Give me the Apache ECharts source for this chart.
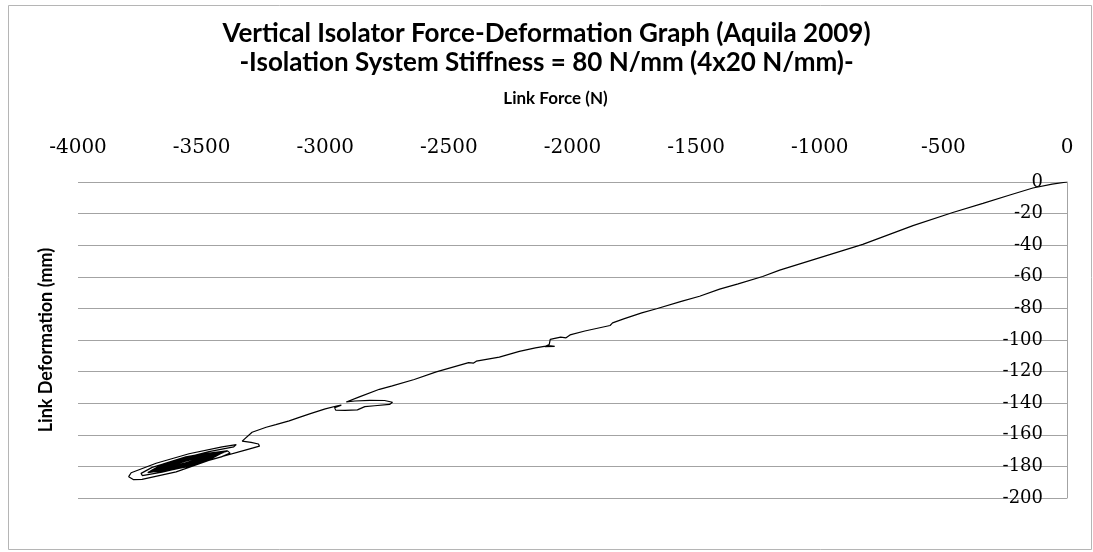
<!DOCTYPE html>
<html>
<head>
<meta charset="utf-8">
<script src="https://cdn.jsdelivr.net/npm/echarts@6/dist/echarts.min.js"></script>
<style>html,body{margin:0;padding:0;background:#fff}#c{width:1093px;height:552px}</style>
</head>
<body>
<div id="c"></div>
<script>
// ---- Data ----
const titleLines = ['Vertical Isolator Force-Deformation Graph (Aquila 2009)', '-Isolation System Stiffness = 80 N/mm (4x20 N/mm)-'];
const xAxisName = 'Link Force (N)';
const yAxisName = 'Link Deformation (mm)';
const xTicks = { min: -4000, max: 0, interval: 500 };
const yTicks = { min: -200, max: 0, interval: 20 };

// Link force (N) along the recorded path (rows match deformMm rows)
const forceN = [
  0, -60, -138, -231, -340, -462, -623, -826, -1012, -1162, -1231, -1330, -1405, -1486, -1560, -1660,
  -1720, -1790, -1838, -1848, -1856, -1950, -2010, -2026, -2048, -2090, -2094, -2112, -2072, -2096,
  -2150, -2215, -2296, -2389, -2400, -2420, -2551, -2640, -2729, -2781, -2862, -2915,
  -2880, -2820, -2760, -2728, -2740, -2800, -2840, -2870, -2920, -2958, -2962, -2935, -2950,
  -3000, -3060, -3105, -3146, -3200, -3239, -3296, -3336,
  -3300, -3270, -3266, -3320, -3457, -3603, -3741, -3775, -3795, -3785, -3684, -3551, -3417, -3360,
  -3370, -3470, -3600, -3700, -3745, -3740, -3660, -3540, -3420, -3385, -3395,
  -3405, -3480, -3560, -3650, -3712, -3650, -3560, -3480,
  -3400, -3485, -3565, -3655, -3718, -3645, -3555, -3475,
  -3412, -3478, -3558, -3648, -3705, -3652, -3562, -3482,
  -3398, -3470, -3550, -3640, -3715, -3640, -3550, -3470,
  -3420, -3490, -3570, -3660, -3700, -3655, -3565, -3485,
  -3408, -3482, -3562, -3652, -3710, -3648, -3558, -3478,
  -3415, -3488, -3568, -3658, -3708, -3660, -3570, -3490,
  -3402, -3476, -3556, -3646, -3714, -3644, -3554, -3474,
  -3425, -3492, -3572, -3662, -3702, -3656, -3566, -3486,
  -3410, -3484, -3564, -3654, -3706, -3650, -3560, -3480,
  -3418, -3486, -3566, -3656, -3711, -3646, -3556, -3476,
  -3415, -3480, -3560, -3650, -3704, -3650, -3560, -3480,
  -3406, -3484, -3564, -3654, -3712, -3654, -3564, -3484,
  -3422, -3478, -3558, -3648, -3700, -3648, -3558, -3478,
  -3410, -3486, -3566, -3656, -3716, -3656, -3566, -3486,
  -3404, -3480, -3560, -3650, -3709, -3650, -3560, -3480, -3440
];
// Link deformation (mm) along the same path
const deformMm = [
  0, -1.3, -3.8, -8.2, -13.5, -19.3, -27.6, -39.5, -48.5, -55.8, -59.8, -64.5, -67.8, -72.3, -75.6, -80.2,
  -82.8, -86.5, -89.2, -90.8, -90.0, -94.3, -96.8, -98.6, -98.2, -99.6, -102.8, -104.2, -104.0, -103.6,
  -105.0, -107.2, -110.8, -113.4, -114.6, -114.3, -120.2, -125.0, -129.0, -131.2, -136.0, -139.2,
  -138.6, -138.2, -138.3, -139.4, -140.8, -141.6, -142.2, -144.2, -144.6, -144.4, -142.8, -141.2, -141.6,
  -143.6, -146.6, -149.0, -151.2, -153.6, -155.2, -158.4, -164.0,
  -164.8, -165.8, -167.2, -169.5, -175.5, -183.5, -188.2, -188.4, -186.5, -184.0, -178.0, -172.0, -167.6, -166.2,
  -167.6, -170.6, -175.8, -180.6, -184.4, -185.8, -183.6, -179.2, -174.0, -171.6, -170.2,
  -170.8, -172.0, -174.6, -179.0, -183.4, -183.0, -180.0, -175.8,
  -170.4, -172.4, -175.0, -179.4, -183.9, -182.6, -179.6, -175.4,
  -171.2, -172.2, -174.9, -179.2, -183.0, -182.4, -179.2, -175.2,
  -170.2, -171.6, -174.2, -178.6, -183.6, -182.8, -179.8, -176.0,
  -171.6, -172.8, -175.4, -179.8, -182.6, -182.2, -179.0, -174.8,
  -170.9, -172.6, -175.2, -179.6, -183.2, -182.0, -178.6, -175.0,
  -171.3, -172.0, -174.4, -178.8, -183.5, -183.2, -180.2, -176.2,
  -170.6, -172.8, -175.6, -179.9, -183.7, -181.8, -178.4, -174.6,
  -171.8, -172.4, -175.0, -179.4, -182.9, -182.6, -179.4, -175.4,
  -171.0, -171.8, -174.0, -178.4, -182.8, -182.9, -180.4, -176.4,
  -171.5, -173.0, -175.8, -180.0, -183.3, -181.6, -178.2, -174.4,
  -171.0, -173.0, -175.9, -180.2, -183.0, -181.6, -178.5, -174.8,
  -170.8, -173.2, -176.2, -180.4, -183.5, -181.8, -178.2, -174.6,
  -171.6, -173.4, -176.4, -180.6, -182.8, -181.4, -178.0, -174.2,
  -171.1, -173.6, -176.6, -180.8, -183.8, -181.2, -177.8, -174.0,
  -170.7, -172.3, -174.8, -179.3, -183.1, -182.5, -179.5, -175.6, -173.0
];

const seriesData = forceN.map((f, i) => [f, deformMm[i]]);

const gridColor = '#a3a3a3';
const tickFont = 'DejaVu Serif';
const textFont = 'Lato';

const chart = echarts.init(document.getElementById('c'), null, { renderer: 'canvas' });
chart.setOption({
  animation: false,
  backgroundColor: '#fff',
  title: {
    text: titleLines.join('\n'),
    left: 'center',
    top: 14,
    padding: [5, 0, 5, 10],
    textStyle: { fontFamily: textFont, fontSize: 26, fontWeight: 'bold', color: '#000', lineHeight: 29 }
  },
  graphic: [
    { type: 'rect', shape: { x: 8.5, y: 5.5, width: 1083, height: 544 }, style: { fill: 'none', stroke: '#b5b5b5', lineWidth: 1 }, silent: true }
  ],
  grid: { left: 78, right: 26, top: 182, bottom: 54, containLabel: false },
  xAxis: {
    type: 'value',
    position: 'top',
    min: xTicks.min, max: xTicks.max, interval: xTicks.interval,
    name: xAxisName,
    nameLocation: 'middle',
    nameGap: 75,
    nameTextStyle: { fontFamily: textFont, fontSize: 17, fontWeight: 'bold', color: '#000', padding: [0, 34, 0, 0] },
    axisLine: { show: false },
    axisTick: { show: false },
    splitLine: { show: false },
    axisLabel: { fontFamily: tickFont, fontSize: 20, color: '#000', margin: 24, formatter: v => String(v) }
  },
  yAxis: {
    type: 'value',
    position: 'right',
    min: yTicks.min, max: yTicks.max, interval: yTicks.interval,
    name: yAxisName,
    nameLocation: 'middle',
    nameGap: -1030,
    nameRotate: 90,
    nameTextStyle: { fontFamily: textFont, fontSize: 18, fontWeight: 'bold', color: '#000' },
    axisLine: { show: true, lineStyle: { color: gridColor, width: 1 } },
    axisTick: { show: false },
    splitLine: { show: true, lineStyle: { color: gridColor, width: 1.2 } },
    axisLabel: { inside: true, margin: 24, fontFamily: tickFont, fontSize: 18, color: '#000', formatter: v => String(v) }
  },
  series: [{
    type: 'line',
    data: seriesData,
    showSymbol: false,
    symbol: 'none',
    smooth: false,
    lineStyle: { color: '#000', width: 1.2 }
  }]
});
</script>
</body>
</html>
